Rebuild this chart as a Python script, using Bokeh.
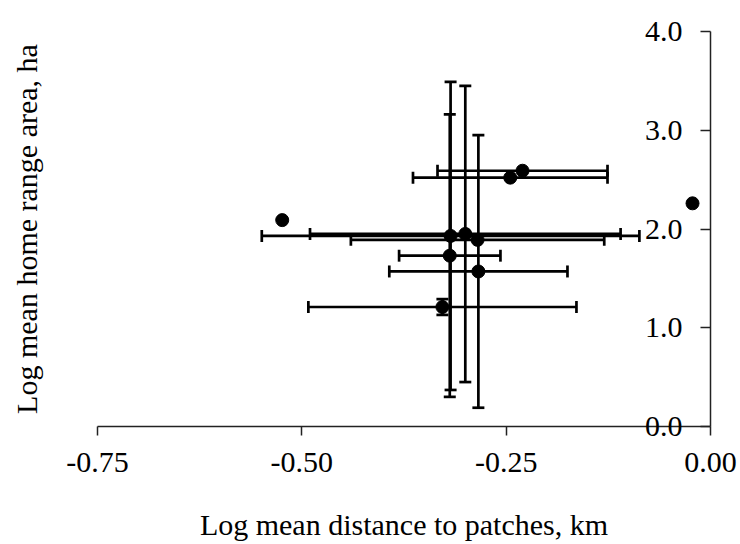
from bokeh.plotting import figure
from bokeh.models import (Range1d, LinearAxis, FixedTicker, PrintfTickFormatter,
                          Whisker, TeeHead, ColumnDataSource)
from bokeh.embed import file_html
from bokeh.resources import INLINE

# ---- data ----
dist = [-0.524, -0.318, -0.300, -0.285, -0.319, -0.284, -0.328, -0.245, -0.230, -0.022]
area = [2.09, 1.93, 1.95, 1.89, 1.73, 1.57, 1.21, 2.52, 2.59, 2.26]
dist_err = [0.0, 0.231, 0.190, 0.155, 0.062, 0.109, 0.164, 0.119, 0.104, 0.0]
area_err = [0.0, 1.56, 1.50, 0.0, 1.43, 1.38, 0.08, 0.0, 0.0, 0.0]

x_ticks = [-0.75, -0.50, -0.25, 0.0]
y_ticks = [0.0, 1.0, 2.0, 3.0, 4.0]
x_title = "Log mean distance to patches, km"
y_title = "Log mean home range area, ha"

FONT = "Liberation Serif"
FS = "30px"

W, H = 740, 544
# pixel placement of the data area inside the canvas
X0_PX, X1_PX = 97, 710     # x = -0.75 and x = 0
Y0_PX, Y4_PX = 426, 31     # y = 0 and y = 4
xs = (X1_PX - X0_PX) / 0.75
ys = (Y0_PX - Y4_PX) / 4.0
x_range = Range1d(-0.75 - X0_PX / xs, 0.0 + (W - X1_PX) / xs)
y_range = Range1d(0.0 - (H - Y0_PX) / ys, 4.0 + Y4_PX / ys)

p = figure(width=W, height=H, output_backend="svg", toolbar_location=None,
           x_range=x_range, y_range=y_range,
           x_axis_location=None, y_axis_location=None,
           min_border=0, min_border_left=0, min_border_right=0,
           min_border_top=0, min_border_bottom=0)
p.grid.visible = False
p.outline_line_color = None
p.background_fill_color = "white"
p.border_fill_color = "white"

AX_COLOR = "#222222"

# x axis at y = 0
xa = LinearAxis(fixed_location=0.0, bounds=(-0.75, 0.0),
                ticker=FixedTicker(ticks=x_ticks),
                formatter=PrintfTickFormatter(format="%.2f"))
xa.major_tick_out = 9
xa.major_tick_in = 0
xa.minor_tick_line_color = None
xa.axis_line_width = 1.5
xa.major_tick_line_width = 1.5
xa.axis_line_color = AX_COLOR
xa.major_tick_line_color = AX_COLOR
xa.major_label_text_font = FONT
xa.major_label_text_font_size = FS
xa.major_label_text_color = "black"
xa.major_label_standoff = 17
xa.axis_label = x_title
xa.axis_label_text_font = FONT
xa.axis_label_text_font_size = FS
xa.axis_label_text_font_style = "normal"
xa.axis_label_text_color = "black"
xa.axis_label_standoff = 33
p.add_layout(xa, "below")

# y axis at x = 0, labels on its left
yax = LinearAxis(fixed_location=0.0, bounds=(0.0, 4.0),
                 ticker=FixedTicker(ticks=y_ticks),
                 formatter=PrintfTickFormatter(format="%.1f"))
yax.major_tick_out = 10
yax.major_tick_in = 0
yax.minor_tick_line_color = None
yax.axis_line_width = 1.5
yax.major_tick_line_width = 1.5
yax.axis_line_color = AX_COLOR
yax.major_tick_line_color = AX_COLOR
yax.major_label_text_font = FONT
yax.major_label_text_font_size = FS
yax.major_label_text_color = "black"
yax.major_label_standoff = 18
p.add_layout(yax, "left")

# axis carrying only the y title, at x = -0.75
yt = LinearAxis(fixed_location=-0.75, bounds=(0.0, 4.0),
                ticker=FixedTicker(ticks=[]))
yt.axis_line_color = None
yt.major_tick_out = 0
yt.major_tick_in = 0
yt.major_tick_line_color = None
yt.minor_tick_line_color = None
yt.axis_label = y_title
yt.axis_label_text_font = FONT
yt.axis_label_text_font_size = FS
yt.axis_label_text_font_style = "normal"
yt.axis_label_text_color = "black"
yt.axis_label_standoff = 55
p.add_layout(yt, "left")

# error bars
hx = [i for i in range(len(dist)) if dist_err[i] > 0]
hsrc = ColumnDataSource(dict(
    base=[area[i] for i in hx],
    lower=[dist[i] - dist_err[i] for i in hx],
    upper=[dist[i] + dist_err[i] for i in hx]))
vx = [i for i in range(len(dist)) if area_err[i] > 0]
vsrc = ColumnDataSource(dict(
    base=[dist[i] for i in vx],
    lower=[area[i] - area_err[i] for i in vx],
    upper=[area[i] + area_err[i] for i in vx]))

LW = 2.7
for src, dim in ((hsrc, "width"), (vsrc, "height")):
    w = Whisker(source=src, base="base", lower="lower", upper="upper",
                dimension=dim, line_color="black", line_width=LW,
                upper_head=TeeHead(size=12, line_color="black", line_width=LW),
                lower_head=TeeHead(size=12, line_color="black", line_width=LW))
    p.add_layout(w)

p.scatter(dist, area, size=13, color="black")

open("out.html", "w").write(file_html(p, INLINE))
